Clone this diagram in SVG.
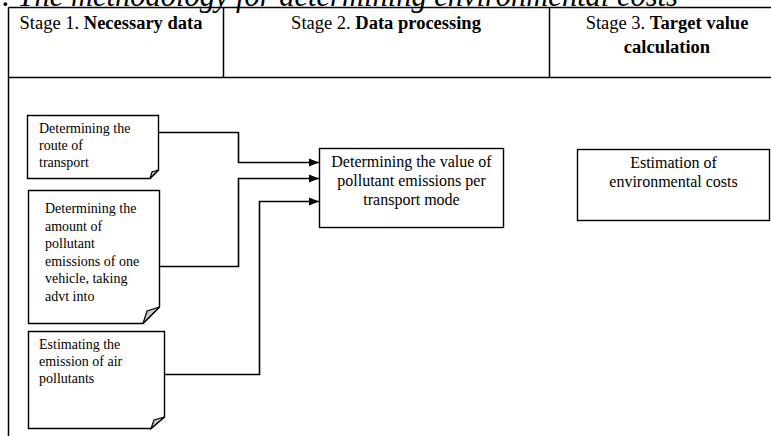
<svg xmlns="http://www.w3.org/2000/svg" width="771" height="436" viewBox="0 0 771 436">
<style>
text{font-family:"Liberation Serif","Times New Roman",serif;fill:#000}
.h{font-size:18.5px}
.b{font-weight:bold}
.n{font-size:14px}
.m{font-size:16px}
.box{fill:#fff;stroke:#000;stroke-width:1.4}
.fold{fill:#c8c8c8;stroke:#000;stroke-width:1.2}
.ln{fill:none;stroke:#000;stroke-width:1.6}
.grid{fill:none;stroke:#000;stroke-width:1.5}
</style>
<defs>
<marker id="arr" viewBox="0 0 10 10" refX="10" refY="5" markerWidth="10" markerHeight="10" markerUnits="userSpaceOnUse" orient="auto">
<path d="M0,1 L10,5 L0,9 Z" fill="#000"/>
</marker>
</defs>
<rect width="771" height="436" fill="#fff"/>
<text x="-13" y="6" font-size="30.5" font-style="italic">1. The methodology for determining environmental costs</text>
<g id="table">
<path class="grid" d="M8.5,7.5 H771 M8.5,7.5 V436 M8.5,77.5 H771 M223.5,7.5 V77.5 M549.5,7.5 V77.5"/>
<text class="h" x="111" y="29" text-anchor="middle">Stage 1. <tspan class="b">Necessary data</tspan></text>
<text class="h" x="386" y="29" text-anchor="middle">Stage 2. <tspan class="b">Data processing</tspan></text>
<text class="h" x="667" y="29" text-anchor="middle">Stage 3. <tspan class="b">Target value</tspan></text>
<text class="h b" x="667" y="53" text-anchor="middle">calculation</text>
</g>
<g id="nodeA">
<path class="box" d="M27.5,115.5 H158.5 V170 L150,178.5 H27.5 Z"/>
<path class="fold" d="M158.5,170 L150,178.5 L152,172 Z"/>
<text class="n" x="39" y="133">Determining the</text>
<text class="n" x="39" y="150">route of</text>
<text class="n" x="39" y="167">transport</text>
</g>
<g id="nodeB">
<path class="box" d="M28.5,190.5 H159.5 V307 L143,323.5 H28.5 Z"/>
<path class="fold" d="M159.5,307 L143,323.5 L147,311 Z"/>
<text class="n" x="45" y="213">Determining the</text>
<text class="n" x="45" y="230.5">amount of</text>
<text class="n" x="45" y="248">pollutant</text>
<text class="n" x="45" y="265.5">emissions of one</text>
<text class="n" x="45" y="283">vehicle, taking</text>
<text class="n" x="45" y="300.5">advt into</text>
</g>
<g id="nodeC">
<path class="box" d="M28.5,331.5 H164.5 V417 L151,428.5 H28.5 Z"/>
<path class="fold" d="M164.5,417 L151,428.5 L154,420 Z"/>
<text class="n" x="39" y="349">Estimating the</text>
<text class="n" x="39" y="366">emission of air</text>
<text class="n" x="39" y="383">pollutants</text>
</g>
<g id="nodeD">
<rect class="box" x="319.5" y="148.5" width="184" height="79"/>
<text class="m" x="411.5" y="167" text-anchor="middle">Determining the value of</text>
<text class="m" x="411.5" y="186" text-anchor="middle">pollutant emissions per</text>
<text class="m" x="411.5" y="205" text-anchor="middle">transport mode</text>
</g>
<g id="nodeE">
<rect class="box" x="577.5" y="149.5" width="192" height="71"/>
<text class="m" x="673.5" y="168" text-anchor="middle">Estimation of</text>
<text class="m" x="673.5" y="187" text-anchor="middle">environmental costs</text>
</g>
<g id="connectors">
<path class="ln" d="M158.5,132.5 H238.5 V162.5 H319" marker-end="url(#arr)"/>
<path class="ln" d="M159.5,266.5 H238.5 V178.5 H319" marker-end="url(#arr)"/>
<path class="ln" d="M164.5,374.5 H259.5 V201.5 H319" marker-end="url(#arr)"/>
</g>
</svg>
